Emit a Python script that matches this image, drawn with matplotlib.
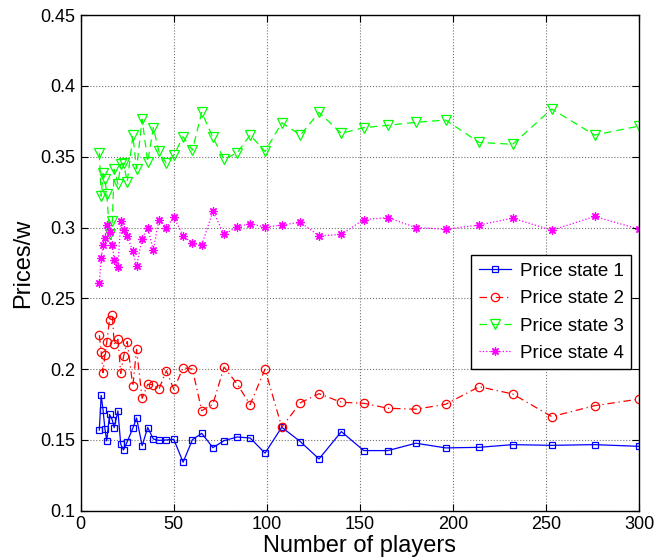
import matplotlib
matplotlib.use("Agg")
import matplotlib.pyplot as plt
from matplotlib.ticker import FormatStrFormatter

plt.rcParams['font.family'] = ['Liberation Sans', 'DejaVu Sans']

players = [10, 11, 12, 13, 14, 15.5, 17, 18, 20, 21.5, 23, 25, 28, 30, 33, 36, 39, 42, 46, 50,
           55, 60, 65, 71, 77, 84, 91, 99, 108, 118, 128, 140, 152, 165, 180, 196, 214, 232,
           253, 276, 300]

price_state_1 = [0.157, 0.1815, 0.1712, 0.158, 0.1493, 0.168, 0.164, 0.1587, 0.1705, 0.147,
                 0.1429, 0.1488, 0.1583, 0.1655, 0.146, 0.1588, 0.1507, 0.1497, 0.150, 0.1505,
                 0.1343, 0.1502, 0.1547, 0.1446, 0.1495, 0.1521, 0.1514, 0.1407, 0.159, 0.1488,
                 0.1366, 0.1559, 0.1425, 0.1425, 0.1477, 0.1444, 0.1448, 0.1467, 0.1462, 0.1467,
                 0.1455]

price_state_2 = [0.224, 0.212, 0.1975, 0.210, 0.219, 0.235, 0.238, 0.2178, 0.221, 0.197,
                 0.209, 0.2195, 0.188, 0.214, 0.1794, 0.1893, 0.189, 0.1858, 0.199, 0.1858,
                 0.201, 0.200, 0.1707, 0.1752, 0.2015, 0.1895, 0.175, 0.200, 0.159, 0.1763,
                 0.1827, 0.1766, 0.1759, 0.1724, 0.1717, 0.1752, 0.1876, 0.1825, 0.1665, 0.1742,
                 0.1789]

price_state_3 = [0.3528, 0.3222, 0.3383, 0.334, 0.3237, 0.2955, 0.3046, 0.3411, 0.3307, 0.3448,
                 0.3453, 0.3324, 0.365, 0.3415, 0.3765, 0.3463, 0.3705, 0.3538, 0.3453, 0.3512,
                 0.3641, 0.3547, 0.3813, 0.3637, 0.3482, 0.3528, 0.3653, 0.3537, 0.374, 0.3653,
                 0.3813, 0.3665, 0.3705, 0.3722, 0.3743, 0.3759, 0.3601, 0.3588, 0.3837, 0.3653,
                 0.3717]

price_state_4 = [0.2605, 0.2785, 0.2875, 0.2927, 0.3016, 0.2969, 0.288, 0.2774, 0.2722, 0.3047,
                 0.2986, 0.294, 0.2833, 0.2729, 0.2922, 0.300, 0.284, 0.3056, 0.300, 0.3075,
                 0.2941, 0.2889, 0.2875, 0.3115, 0.2953, 0.3004, 0.3028, 0.3002, 0.3018, 0.3037,
                 0.2941, 0.2951, 0.3056, 0.307, 0.300, 0.2988, 0.3018, 0.3066, 0.2981, 0.3078,
                 0.2988]

series_labels = ["Price state 1", "Price state 2", "Price state 3", "Price state 4"]
x_ticks = [0, 50, 100, 150, 200, 250, 300]
y_ticks = [0.1, 0.15, 0.2, 0.25, 0.3, 0.35, 0.4, 0.45]

fig = plt.figure(figsize=(6.68, 5.6), dpi=100)
ax = fig.add_axes([0.1208, 0.0879, 0.8362, 0.8851])

ax.plot(players, price_state_1, '-', color=(0, 0, 1), marker='s', markersize=5,
        markerfacecolor='none', markeredgewidth=0.9, linewidth=0.9, label=series_labels[0])
ax.plot(players, price_state_2, color=(1, 0, 0), marker='o', markersize=6,
        markerfacecolor='none', markeredgewidth=0.9, linewidth=0.9, label=series_labels[1],
        linestyle=(0, (6, 3, 1, 3)))
ax.plot(players, price_state_3, color=(0, 1, 0), marker='v', markersize=6.5,
        markerfacecolor='none', markeredgewidth=0.9, linewidth=0.9, label=series_labels[2],
        linestyle=(0, (6, 4)))
ax.plot(players, price_state_4, ':', color=(1, 0, 1), marker=(8, 2, 0), markersize=6,
        markeredgewidth=0.9, linewidth=0.9, label=series_labels[3])

ax.set_xlim(0, 300)
ax.set_ylim(0.1, 0.45)
ax.set_xticks(x_ticks)
ax.set_yticks(y_ticks)
ax.yaxis.set_major_formatter(FormatStrFormatter('%g'))
ax.tick_params(direction='in', top=True, right=True, length=5, width=0.8,
               labelsize=13, pad=4)
ax.grid(True, linestyle=':', color='0.45', linewidth=0.8)
for s in ax.spines.values():
    s.set_linewidth(1.0)
    s.set_color('black')

ax.set_xlabel("Number of players", fontsize=17, labelpad=1)
ax.set_ylabel("Prices/w", fontsize=17, labelpad=4)

leg = ax.legend(loc='upper left', bbox_to_anchor=(0.699, 0.516), fontsize=13.5,
                numpoints=1, fancybox=False, framealpha=1, edgecolor='black',
                handlelength=1.75, borderpad=0.4, labelspacing=0.55, handletextpad=0.45,
                borderaxespad=0)
leg.get_frame().set_linewidth(1.0)

fig.savefig("out.png", dpi=100)
